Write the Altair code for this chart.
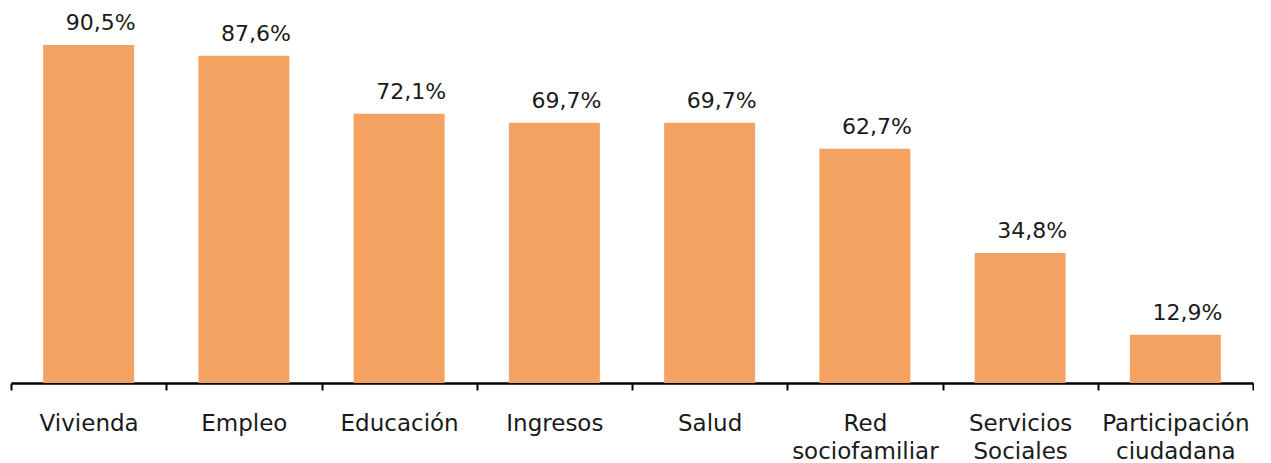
import altair as alt
import pandas as pd

categories = ["Vivienda", "Empleo", "Educación", "Ingresos", "Salud",
              "Red sociofamiliar", "Servicios Sociales", "Participación ciudadana"]
values = [90.5, 87.6, 72.1, 69.7, 69.7, 62.7, 34.8, 12.9]
labels = ["90,5%", "87,6%", "72,1%", "69,7%", "69,7%", "62,7%", "34,8%", "12,9%"]

df = pd.DataFrame({"cat": categories, "val": values, "lbl": labels})

FONT = "DejaVu Sans"

x = alt.X(
    "cat:N",
    sort=categories,
    scale=alt.Scale(paddingInner=0, paddingOuter=0),
    axis=alt.Axis(
        title=None,
        labelAngle=0,
        labelExpr="split(datum.label, ' ')",
        labelFont=FONT,
        labelFontSize=23,
        labelColor="#1a1a1a",
        labelLineHeight=28,
        labelPadding=22,
        labelBaseline="top",
        tickBand="extent",
        tickSize=7,
        tickWidth=2,
        tickColor="#000000",
        domainColor="#000000",
        domainWidth=2.5,
        grid=False,
    ),
)
y = alt.Y("val:Q", scale=alt.Scale(domain=[0, 100]), axis=None)

bars = alt.Chart(df).mark_bar(color="#F4A261", width=alt.RelativeBandSize(0.586)).encode(x=x, y=y)
text = alt.Chart(df).mark_text(
    font=FONT, fontSize=22, color="#1a1a1a", baseline="alphabetic", dy=-15, dx=12
).encode(x=x, y=y, text="lbl:N")

chart = (bars + text).properties(
    width=1242, height=373.5,
    padding={"left": 2, "top": 1.5, "right": 0, "bottom": 0},
    autosize=alt.AutoSizeParams(type="pad"),
    background="white",
).configure_view(stroke=None)

chart.save("out.html", embed_options={"renderer": "svg", "actions": False})
